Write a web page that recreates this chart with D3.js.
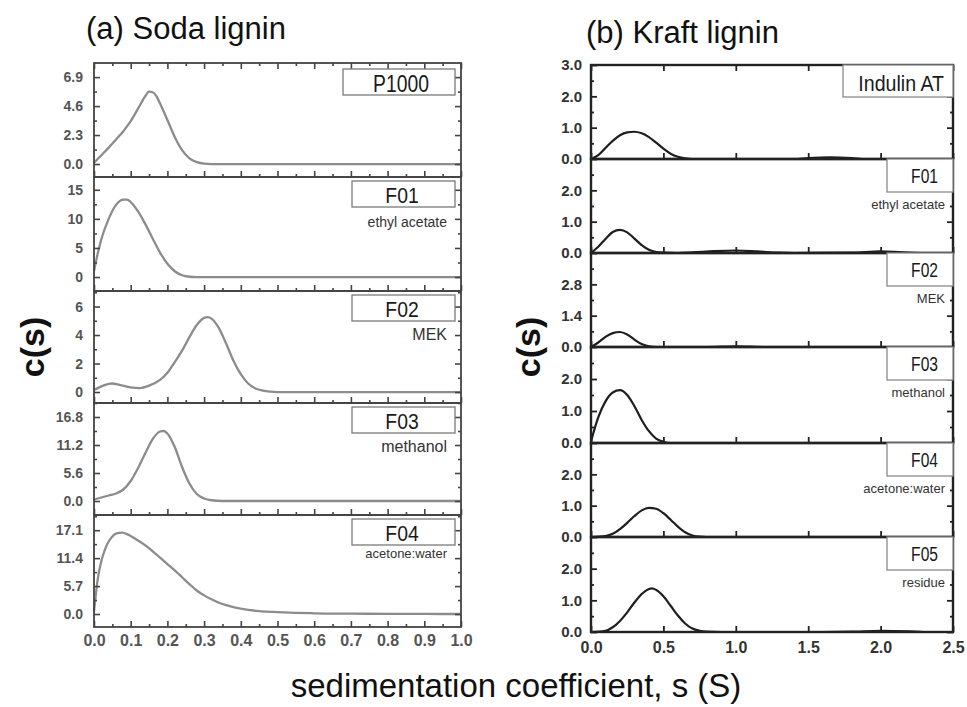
<!DOCTYPE html>
<html><head><meta charset="utf-8">
<script src="https://cdn.jsdelivr.net/npm/d3@7"></script>
<style>body{margin:0;background:#fff}svg{display:block}</style>
</head><body>
<svg id="chart" width="967" height="707"></svg>
<script>
// ===================== DATA =====================
// (a) Soda lignin
const sodaSamples  = ["P1000", "F01", "F02", "F03", "F04"];
const sodaSolvents = ["", "ethyl acetate", "MEK", "methanol", "acetone:water"];
const sodaXTicks = [0, 0.1, 0.2, 0.3, 0.4, 0.5, 0.6, 0.7, 0.8, 0.9, 1.0];
const sodaXTickLabels = ["0.0","0.1","0.2","0.3","0.4","0.5","0.6","0.7","0.8","0.9","1.0"];
const sodaYTicks = [[0, 2.3, 4.6, 6.9], [0, 5, 10, 15], [0, 2, 4, 6], [0, 5.6, 11.2, 16.8], [0, 5.7, 11.4, 17.1]];
const sodaYTickLabels = [["0.0","2.3","4.6","6.9"], ["0","5","10","15"], ["0","2","4","6"], ["0.0","5.6","11.2","16.8"], ["0.0","5.7","11.4","17.1"]];
const sodaYDomains = [[-1.03, 8.02], [-2.4, 17.2], [-0.77, 7.09], [-2.8, 19.6], [-2.65, 20.2]];

const sodaP1000 = [[0,0.1],[0.02,0.7],[0.04,1.3],[0.06,1.95],[0.08,2.6],[0.09,3.0],[0.1,3.4],[0.12,4.4],[0.14,5.4],[0.15,5.75],[0.16,5.7],[0.17,5.4],[0.18,4.8],[0.2,3.5],[0.22,2.15],[0.24,1.1],[0.26,0.45],[0.28,0.15],[0.3,0.03],[0.32,0],[0.5,0],[0.75,0],[1.0,0]];
const sodaF01 = [[0,1.0],[0.01,4.0],[0.02,6.5],[0.04,10.0],[0.06,12.4],[0.08,13.3],[0.09,13.3],[0.1,12.9],[0.12,11.3],[0.14,9.1],[0.16,6.6],[0.18,4.2],[0.2,2.3],[0.22,1.0],[0.24,0.3],[0.26,0.05],[0.28,0],[0.5,0],[1.0,0]];
const sodaF02 = [[0,0.15],[0.02,0.4],[0.04,0.58],[0.05,0.6],[0.07,0.5],[0.1,0.32],[0.125,0.28],[0.15,0.45],[0.18,0.85],[0.2,1.35],[0.22,2.1],[0.24,2.9],[0.26,3.85],[0.28,4.7],[0.3,5.2],[0.31,5.25],[0.32,5.15],[0.34,4.5],[0.36,3.4],[0.38,2.2],[0.4,1.25],[0.42,0.6],[0.44,0.25],[0.46,0.1],[0.48,0.03],[0.5,0],[0.75,0],[1.0,0]];
const sodaF03 = [[0,0.3],[0.02,0.7],[0.04,1.1],[0.06,1.5],[0.08,2.3],[0.1,4.0],[0.12,6.6],[0.14,9.6],[0.16,12.4],[0.18,13.9],[0.19,14.0],[0.2,13.5],[0.22,10.8],[0.24,6.8],[0.26,3.5],[0.28,1.4],[0.3,0.5],[0.32,0.15],[0.35,0],[0.6,0],[1.0,0]];
const sodaF04 = [[0,0.5],[0.005,4.0],[0.01,7.0],[0.02,10.8],[0.03,13.2],[0.04,14.8],[0.05,15.8],[0.06,16.4],[0.075,16.6],[0.09,16.3],[0.1,15.9],[0.12,15.0],[0.14,14.0],[0.16,12.8],[0.18,11.5],[0.2,10.2],[0.22,8.9],[0.24,7.5],[0.26,6.1],[0.28,4.8],[0.3,3.8],[0.32,3.0],[0.34,2.3],[0.36,1.8],[0.38,1.4],[0.4,1.1],[0.45,0.6],[0.5,0.4],[0.55,0.25],[0.6,0.15],[0.7,0.07],[0.8,0.03],[0.9,0.01],[1.0,0]];
const sodaSeries = [sodaP1000, sodaF01, sodaF02, sodaF03, sodaF04];

// (b) Kraft lignin
const kraftSamples  = ["Indulin AT", "F01", "F02", "F03", "F04", "F05"];
const kraftSolvents = ["", "ethyl acetate", "MEK", "methanol", "acetone:water", "residue"];
const kraftXTicks = [0, 0.5, 1.0, 1.5, 2.0, 2.5];
const kraftXTickLabels = ["0.0","0.5","1.0","1.5","2.0","2.5"];
const kraftYTicks = [[0,1,2,3],[0,1,2],[0,1.4,2.8],[0,1,2],[0,1,2],[0,1,2]];
const kraftYTickLabels = [["0.0","1.0","2.0","3.0"],["0.0","1.0","2.0"],["0.0","1.4","2.8"],["0.0","1.0","2.0"],["0.0","1.0","2.0"],["0.0","1.0","2.0"]];
const kraftYDomains = [[0,3],[0,3],[0,4.2],[0,3],[0,3],[0,3]];

const kraftIndulin = [[0,0],[0.05,0.12],[0.1,0.35],[0.15,0.58],[0.2,0.76],[0.25,0.85],[0.3,0.87],[0.35,0.82],[0.4,0.7],[0.45,0.52],[0.5,0.33],[0.55,0.17],[0.6,0.07],[0.65,0.02],[0.7,0],[1.4,0],[1.5,0.03],[1.65,0.05],[1.8,0.03],[1.9,0],[2.5,0]];
const kraftF01 = [[0,0],[0.05,0.2],[0.1,0.45],[0.15,0.67],[0.2,0.74],[0.25,0.66],[0.3,0.46],[0.35,0.25],[0.4,0.1],[0.45,0.03],[0.5,0.01],[0.6,0],[0.7,0.02],[0.85,0.06],[1.0,0.08],[1.15,0.05],[1.3,0.01],[1.4,0],[1.8,0.01],[2.0,0.05],[2.15,0.02],[2.3,0],[2.5,0]];
const kraftF02 = [[0,0],[0.05,0.2],[0.1,0.45],[0.15,0.62],[0.2,0.67],[0.25,0.56],[0.3,0.33],[0.35,0.13],[0.4,0.03],[0.45,0],[0.8,0],[1.0,0.03],[1.2,0],[2.5,0]];
const kraftF03 = [[0,0.05],[0.05,0.8],[0.1,1.3],[0.15,1.58],[0.2,1.65],[0.25,1.5],[0.3,1.15],[0.35,0.72],[0.4,0.37],[0.45,0.14],[0.5,0.04],[0.55,0],[1.0,0],[2.5,0]];
const kraftF04 = [[0,0],[0.1,0.03],[0.15,0.1],[0.2,0.25],[0.25,0.45],[0.3,0.67],[0.35,0.85],[0.4,0.93],[0.45,0.9],[0.5,0.76],[0.55,0.55],[0.6,0.33],[0.65,0.15],[0.7,0.05],[0.75,0.01],[0.8,0],[2.5,0]];
const kraftF05 = [[0,0],[0.1,0.04],[0.15,0.15],[0.2,0.35],[0.25,0.62],[0.3,0.93],[0.35,1.2],[0.4,1.36],[0.42,1.38],[0.45,1.33],[0.5,1.13],[0.55,0.83],[0.6,0.52],[0.65,0.27],[0.7,0.11],[0.75,0.04],[0.8,0.01],[0.9,0],[1.6,0],[1.8,0.01],[2.0,0.04],[2.2,0.02],[2.3,0],[2.5,0]];
const kraftSeries = [kraftIndulin, kraftF01, kraftF02, kraftF03, kraftF04, kraftF05];

// ===================== DRAWING =====================
const svg = d3.select("#chart");
const FONT = "'Liberation Sans', Arial, Helvetica, sans-serif";

function minorTicks(major, dom) {
  const step = major[1] - major[0];
  const out = [];
  for (let v = major[0] - step / 2; v < dom[1] + 1e-9; v += step) {
    if (v > dom[0] && v < dom[1]) out.push(v);
  }
  return out;
}

function drawPanel(cfg) {
  const x = d3.scaleLinear().domain(cfg.xDomain).range([cfg.left, cfg.right]);
  const n = cfg.series.length;
  cfg.series.forEach((data, i) => {
    const top = cfg.edges[i], bot = cfg.edges[i + 1];
    const dom = cfg.yDomains[i];
    const y = d3.scaleLinear().domain(dom).range([bot, top]);
    const g = svg.append("g");

    // curve
    g.append("path").datum(data)
      .attr("fill", "none").attr("stroke", cfg.lineColor).attr("stroke-width", cfg.lineWidth)
      .attr("stroke-linejoin", "round")
      .attr("d", d3.line().x(d => x(d[0])).y(d => y(d[1])).curve(d3.curveMonotoneX));

    const styleAxis = sel => {
      sel.select(".domain").remove();
      sel.selectAll("line").attr("stroke", cfg.axisColor).attr("stroke-width", cfg.tickWidth);
    };

    // y axes
    const yt = cfg.yTicks[i], yl = cfg.yTickLabels[i];
    const ya = g.append("g").attr("transform", `translate(${cfg.left},0)`)
      .call(d3.axisLeft(y).tickValues(yt).tickSize(-6).tickSizeOuter(0).tickPadding(cfg.yPad)
        .tickFormat(d => yl[yt.indexOf(d)]))
      .call(styleAxis);
    ya.selectAll("text").attr("font-family", FONT).attr("font-size", cfg.yFont)
      .attr("font-weight", "bold").attr("fill", cfg.labelColor);
    const mn = minorTicks(yt, dom);
    g.append("g").attr("transform", `translate(${cfg.left},0)`)
      .call(d3.axisLeft(y).tickValues(mn).tickSize(-3).tickSizeOuter(0).tickFormat(""))
      .call(styleAxis);
    g.append("g").attr("transform", `translate(${cfg.right},0)`)
      .call(d3.axisRight(y).tickValues(yt).tickSize(-6).tickSizeOuter(0).tickFormat(""))
      .call(styleAxis);
    g.append("g").attr("transform", `translate(${cfg.right},0)`)
      .call(d3.axisRight(y).tickValues(mn).tickSize(-3).tickSizeOuter(0).tickFormat(""))
      .call(styleAxis);

    // x ticks (bottom of each subplot)
    const xa = g.append("g").attr("transform", `translate(0,${bot})`)
      .call(d3.axisBottom(x).tickValues(cfg.xTicks).tickSize(-6).tickSizeOuter(0).tickPadding(cfg.xPad)
        .tickFormat(d => i === n - 1 ? cfg.xTickLabels[cfg.xTicks.indexOf(d)] : ""))
      .call(styleAxis);
    xa.selectAll("text").attr("font-family", FONT).attr("font-size", cfg.xFont)
      .attr("font-weight", "bold").attr("fill", cfg.labelColor);
    if (cfg.xMinor) {
      g.append("g").attr("transform", `translate(0,${bot})`)
        .call(d3.axisBottom(x).tickValues(cfg.xMinor).tickSize(-3).tickSizeOuter(0).tickFormat(""))
        .call(styleAxis);
    }
    if (i === 0) {
      g.append("g").attr("transform", `translate(0,${top})`)
        .call(d3.axisTop(x).tickValues(cfg.xTicks).tickSize(-6).tickSizeOuter(0).tickFormat(""))
        .call(styleAxis);
      if (cfg.xMinor) {
        g.append("g").attr("transform", `translate(0,${top})`)
          .call(d3.axisTop(x).tickValues(cfg.xMinor).tickSize(-3).tickSizeOuter(0).tickFormat(""))
          .call(styleAxis);
      }
    }

    // frame
    g.append("rect").attr("x", cfg.left).attr("y", top)
      .attr("width", cfg.right - cfg.left).attr("height", bot - top)
      .attr("fill", "none").attr("stroke", cfg.axisColor).attr("stroke-width", cfg.frameWidth);

    // legend box + name
    const b = cfg.box(i, top);
    g.append("rect").attr("x", b.x).attr("y", b.y).attr("width", b.w).attr("height", b.h)
      .attr("fill", "#fff").attr("stroke", cfg.boxColor).attr("stroke-width", 1.3);
    const t = g.append("text").text(cfg.names[i])
      .attr("font-family", FONT).attr("font-size", b.fs).attr("fill", "#1a1a1a")
      .attr("y", b.base);
    const natural = t.node().getComputedTextLength();
    const w = natural * b.squeeze;
    t.attr("textLength", w).attr("lengthAdjust", "spacingAndGlyphs");
    if (b.anchor === "end") t.attr("x", b.tx - w); else t.attr("x", b.tx - w / 2);

    if (cfg.solvents[i]) {
      const s = cfg.solvent(i, top);
      g.append("text").text(cfg.solvents[i])
        .attr("font-family", FONT).attr("font-size", s.fs).attr("fill", "#333")
        .attr("text-anchor", "end").attr("x", s.x).attr("y", s.y);
    }
  });
}

// (a) Soda lignin
const sodaMinorX = d3.range(0.05, 1.0, 0.1);
drawPanel({
  left: 94, right: 461, edges: [63, 177, 291, 403, 515, 627],
  xDomain: [0, 1], xTicks: sodaXTicks, xTickLabels: sodaXTickLabels, xMinor: sodaMinorX,
  series: sodaSeries, yDomains: sodaYDomains, yTicks: sodaYTicks, yTickLabels: sodaYTickLabels,
  names: sodaSamples, solvents: sodaSolvents,
  lineColor: "#8c8c8c", lineWidth: 2.3, axisColor: "#444", labelColor: "#555",
  tickWidth: 1.6, frameWidth: 1.8, boxColor: "#7a7a7a",
  yPad: 11, xPad: 8, yFont: 14, xFont: 16,
  box: (i, top) => i === 0
    ? {x: 343, y: top + 6, w: 112, h: 26, fs: 23, base: top + 29, tx: 401, squeeze: 0.84, anchor: "middle"}
    : {x: 352, y: top + 4, w: 103, h: 26, fs: 22, base: top + 26, tx: 402, squeeze: 0.88, anchor: "middle"},
  solvent: (i, top) => {
    const fs = [0, 14, 16, 16, 13][i];
    const dy = [0, 50, 49, 49, 43][i];
    return {x: 447, y: top + dy, fs};
  }
});

// (b) Kraft lignin
drawPanel({
  left: 591, right: 953, edges: [65, 159, 253, 347, 443, 537, 632],
  xDomain: [0, 2.5], xTicks: kraftXTicks, xTickLabels: kraftXTickLabels, xMinor: null,
  series: kraftSeries, yDomains: kraftYDomains, yTicks: kraftYTicks, yTickLabels: kraftYTickLabels,
  names: kraftSamples, solvents: kraftSolvents,
  lineColor: "#1e1e1e", lineWidth: 2.2, axisColor: "#222", labelColor: "#333",
  tickWidth: 1.8, frameWidth: 2.4, boxColor: "#8a8a8a",
  yPad: 9, xPad: 10, yFont: 15, xFont: 16,
  box: (i, top) => i === 0
    ? {x: 843, y: top, w: 110, h: 32, fs: 22, base: top + 26, tx: 944, squeeze: 0.89, anchor: "end"}
    : {x: 887, y: top, w: 66, h: 33, fs: 20, base: top + 24, tx: 938, squeeze: 0.78, anchor: "end"},
  solvent: (i, top) => ({x: 945, y: top + 50, fs: 13})
});

// Titles
svg.append("text").text("(a) Soda lignin")
  .attr("x", 86).attr("y", 39).attr("font-family", FONT).attr("font-size", 31).attr("fill", "#111");
svg.append("text").text("(b) Kraft lignin")
  .attr("x", 586).attr("y", 43).attr("font-family", FONT).attr("font-size", 31).attr("fill", "#111");

// Y axis titles
[[32, 347], [528, 347]].forEach(([cx, cy]) => {
  svg.append("text").text("c(s)")
    .attr("transform", `translate(${cx},${cy}) rotate(-90)`)
    .attr("text-anchor", "middle").attr("dy", "0.35em")
    .attr("font-family", FONT).attr("font-size", 34).attr("font-weight", "bold").attr("fill", "#111");
});

// X axis title
svg.append("text").text("sedimentation coefficient, s (S)")
  .attr("x", 516).attr("y", 697).attr("text-anchor", "middle")
  .attr("font-family", FONT).attr("font-size", 33).attr("fill", "#111");
</script>
</body></html>
